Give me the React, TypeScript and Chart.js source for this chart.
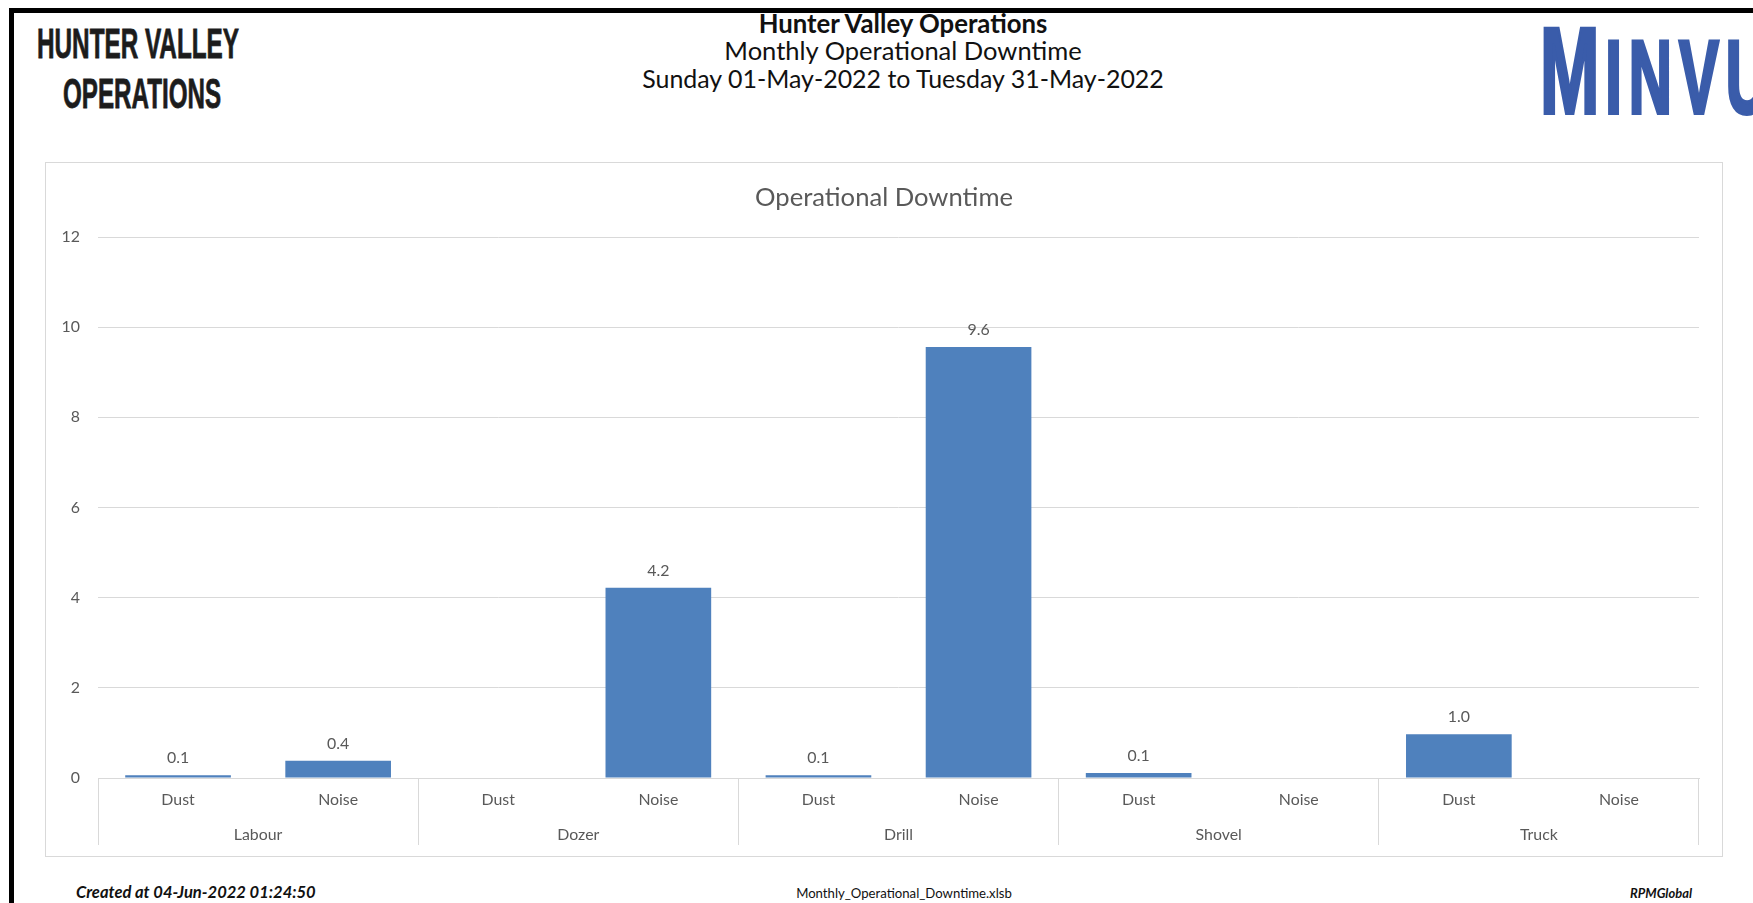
import React, { useEffect, useMemo, useRef } from "react";
import { Chart, registerables } from "chart.js";

Chart.register(...registerables);

// ---------------- data ----------------
const subCategories = ["Dust", "Noise", "Dust", "Noise", "Dust", "Noise", "Dust", "Noise", "Dust", "Noise"];
const equipmentGroups = ["Labour", "Dozer", "Drill", "Shovel", "Truck"];
const downtimeHours: (number | null)[] = [0.06, 0.38, null, 4.22, 0.06, 9.56, 0.11, null, 0.97, null];
const yAxisTicks = [0, 2, 4, 6, 8, 10, 12];

const chartTitle = "Operational Downtime";
const logoLines = ["HUNTER VALLEY", "OPERATIONS"];
const headerTitle = "Hunter Valley Operations";
const headerSubtitle = "Monthly Operational Downtime";
const headerPeriod = "Sunday 01-May-2022 to Tuesday 31-May-2022";
const brandBig = "M";
const brandSmall = "INVU";
const footerCreated = "Created at 04-Jun-2022 01:24:50";
const footerFile = "Monthly_Operational_Downtime.xlsb";
const footerBrand = "RPMGlobal";

// ---------------- styles ----------------
const BAR = "#4F81BD";
const GRID = "#D9D9D9";
const TEXT = "#595959";
const FONT = "Lato";

let mctx: CanvasRenderingContext2D | null = null;
function textWidth(text: string, font: string) {
  if (!mctx) mctx = document.createElement("canvas").getContext("2d");
  mctx!.font = font;
  return mctx!.measureText(text).width;
}
function fitSize(text: string, target: number, weight = "normal", style = "normal", family = FONT) {
  return (100 * target) / textWidth(text, `${style} ${weight} 100px ${family}`);
}

// Lato: ascent 0.987em with line-height 1.2
function Lato({ text, baseline, size, weight = "normal", fstyle = "normal", x, align, color = "#111" }: any) {
  const style: any = {
    position: "absolute",
    top: baseline - 0.987 * size,
    fontFamily: FONT,
    fontSize: size,
    lineHeight: 1.2,
    fontWeight: weight,
    fontStyle: fstyle,
    color,
    whiteSpace: "nowrap",
  };
  if (align === "center") {
    style.left = x;
    style.transform = "translateX(-50%)";
  } else if (align === "right") {
    style.right = 1753 - x;
  } else {
    style.left = x;
  }
  return <div style={style}>{text}</div>;
}

const valueLabelPlugin = {
  id: "valueLabels",
  afterDatasetsDraw(chart: any) {
    const { ctx } = chart;
    const size = chart.options.plugins.valueLabels.size;
    chart.data.datasets.forEach((ds: any, di: number) => {
      const meta = chart.getDatasetMeta(di);
      meta.data.forEach((el: any, i: number) => {
        const v = ds.data[i];
        if (v === null || v === undefined) return;
        ctx.save();
        ctx.font = `normal ${size}px ${FONT}`;
        ctx.fillStyle = TEXT;
        ctx.textAlign = "center";
        ctx.textBaseline = "middle";
        ctx.fillText(v.toFixed(1), el.x, el.y - 17);
        ctx.restore();
      });
    });
  },
};

export default function App() {
  const canvasRef = useRef<HTMLCanvasElement>(null);

  const sizes = useMemo(() => {
    const logoSize = 43;
    const logoScale0 = 202 / textWidth(logoLines[0], `bold ${logoSize}px "Liberation Sans"`);
    const logoScale1 = 158 / textWidth(logoLines[1], `bold ${logoSize}px "Liberation Sans"`);
    return {
      logoSize,
      logoScale0,
      logoScale1,
      h1: fitSize(headerTitle, 291, "bold"),
      h2: fitSize(headerSubtitle, 358),
      h3: fitSize(headerPeriod, 524),
      created: fitSize(footerCreated, 240, "bold", "italic"),
      file: fitSize(footerFile, 216),
      brand: fitSize(footerBrand, 62, "bold", "italic"),
    };
  }, []);

  useEffect(() => {
    const canvas = canvasRef.current!;
    const tickSize = fitSize("Noise", 40);
    const titleSize = fitSize(chartTitle, 258);
    const chart = new Chart(canvas, {
      type: "bar",
      data: {
        labels: subCategories,
        datasets: [
          {
            data: downtimeHours as any,
            backgroundColor: BAR,
            borderWidth: 0,
            barPercentage: 0.66,
            categoryPercentage: 1,
          },
        ],
      },
      options: {
        responsive: false,
        animation: false,
        events: [],
        layout: { padding: { left: 0, right: 0, top: 0, bottom: 0 } },
        plugins: {
          legend: { display: false },
          tooltip: { enabled: false },
          title: {
            display: true,
            text: chartTitle,
            color: TEXT,
            font: { family: FONT, size: titleSize, weight: "normal" as any },
            padding: { top: 35 - 0.6 * titleSize, bottom: 74 - 35 - 0.6 * titleSize },
          },
          valueLabels: { size: tickSize },
        } as any,
        scales: {
          x: {
            type: "category",
            position: "bottom",
            weight: 0,
            offset: true,
            grid: {
              display: true,
              drawOnChartArea: false,
              drawTicks: true,
              tickLength: 67,
              offset: true,
              lineWidth: 1,
              color: (c: any) => (c.index === undefined || c.index % 2 === 0 ? GRID : "rgba(0,0,0,0)"),
            },
            border: { display: true, color: GRID },
            ticks: {
              color: TEXT,
              font: { family: FONT, size: tickSize },
              padding: 637 - 615 - 67 - 0.6 * tickSize,
              autoSkip: false,
              maxRotation: 0,
            },
            afterFit: (s: any) => {
              s.height = 33;
            },
          } as any,
          x2: {
            type: "category",
            position: "bottom",
            weight: 1,
            labels: equipmentGroups,
            offset: true,
            grid: { display: false },
            border: { display: false },
            ticks: {
              color: TEXT,
              font: { family: FONT, size: tickSize },
              padding: 16 - 0.6 * tickSize,
              autoSkip: false,
              maxRotation: 0,
            },
            afterFit: (s: any) => {
              s.height = 45;
            },
          } as any,
          y: {
            min: yAxisTicks[0],
            max: yAxisTicks[yAxisTicks.length - 1],
            ticks: {
              stepSize: yAxisTicks[1] - yAxisTicks[0],
              color: TEXT,
              font: { family: FONT, size: tickSize },
              padding: 18,
            },
            grid: { color: GRID, drawTicks: false },
            border: { display: false },
            afterFit: (s: any) => {
              s.width = 52;
            },
          } as any,
          // empty right-hand spacer so the plot area ends where the reference's does
          yRight: {
            type: "linear",
            position: "right",
            grid: { display: false },
            border: { display: false },
            ticks: { display: false },
            afterFit: (s: any) => {
              s.width = 23;
            },
          } as any,
        },
      },
      plugins: [valueLabelPlugin as any],
    });
    return () => chart.destroy();
  }, []);

  const logoTop = (baseline: number, size: number) => baseline - 0.8465 * size;

  return (
    <div
      style={{
        position: "fixed",
        left: 0,
        top: 0,
        width: 1753,
        height: 903,
        overflow: "hidden",
        background: "#fff",
      }}
    >
      {/* outer black frame */}
      <div
        style={{
          position: "absolute",
          left: 9,
          top: 8,
          width: 1800,
          height: 1000,
          border: "5px solid #000",
        }}
      />

      {/* left logo text */}
      {logoLines.map((line, i) => (
        <div
          key={line}
          style={{
            position: "absolute",
            left: i === 0 ? 138 : 142,
            top: logoTop(i === 0 ? 58 : 108, sizes.logoSize),
            fontFamily: '"Liberation Sans", Arial, sans-serif',
            fontWeight: "bold",
            fontSize: sizes.logoSize,
            lineHeight: 1,
            color: "#1c1c1c",
            whiteSpace: "nowrap",
            WebkitTextStroke: "0.8px #1c1c1c",
            transform: `translateX(-50%) scaleX(${i === 0 ? sizes.logoScale0 : sizes.logoScale1})`,
            transformOrigin: "center",
          }}
        >
          {line}
        </div>
      ))}

      {/* centre header */}
      <Lato text={headerTitle} baseline={33} size={sizes.h1} weight="bold" x={903} align="center" />
      <Lato text={headerSubtitle} baseline={60} size={sizes.h2} x={903} align="center" />
      <Lato text={headerPeriod} baseline={89} size={sizes.h3} x={903} align="center" />

      {/* right brand */}
      <div
        style={{
          position: "absolute",
          left: 1540,
          top: 113 - 0.8465 * 123,
          fontFamily: '"Liberation Sans", Arial, sans-serif',
          fontWeight: "bold",
          fontSize: 123,
          lineHeight: 1,
          color: "#3A5CAA",
          whiteSpace: "nowrap",
          WebkitTextStroke: "4px #3A5CAA",
          transform: "scaleX(0.58)",
          transformOrigin: "left",
        }}
      >
        {brandBig}
        <span style={{ fontSize: 103, lineHeight: 1, letterSpacing: 12, marginLeft: 10 }}>{brandSmall}</span>
      </div>

      {/* chart frame */}
      <div
        style={{
          position: "absolute",
          left: 45,
          top: 162,
          width: 1678,
          height: 695,
          boxSizing: "border-box",
          border: `1px solid ${GRID}`,
          background: "#fff",
        }}
      >
        <canvas ref={canvasRef} width={1676} height={693} style={{ display: "block", width: 1676, height: 693 }} />
      </div>

      {/* footer */}
      <Lato text={footerCreated} baseline={899} size={sizes.created} weight="bold" fstyle="italic" x={76} />
      <Lato text={footerFile} baseline={899} size={sizes.file} x={904} align="center" />
      <Lato text={footerBrand} baseline={899} size={sizes.brand} weight="bold" fstyle="italic" x={1692} align="right" />
    </div>
  );
}
